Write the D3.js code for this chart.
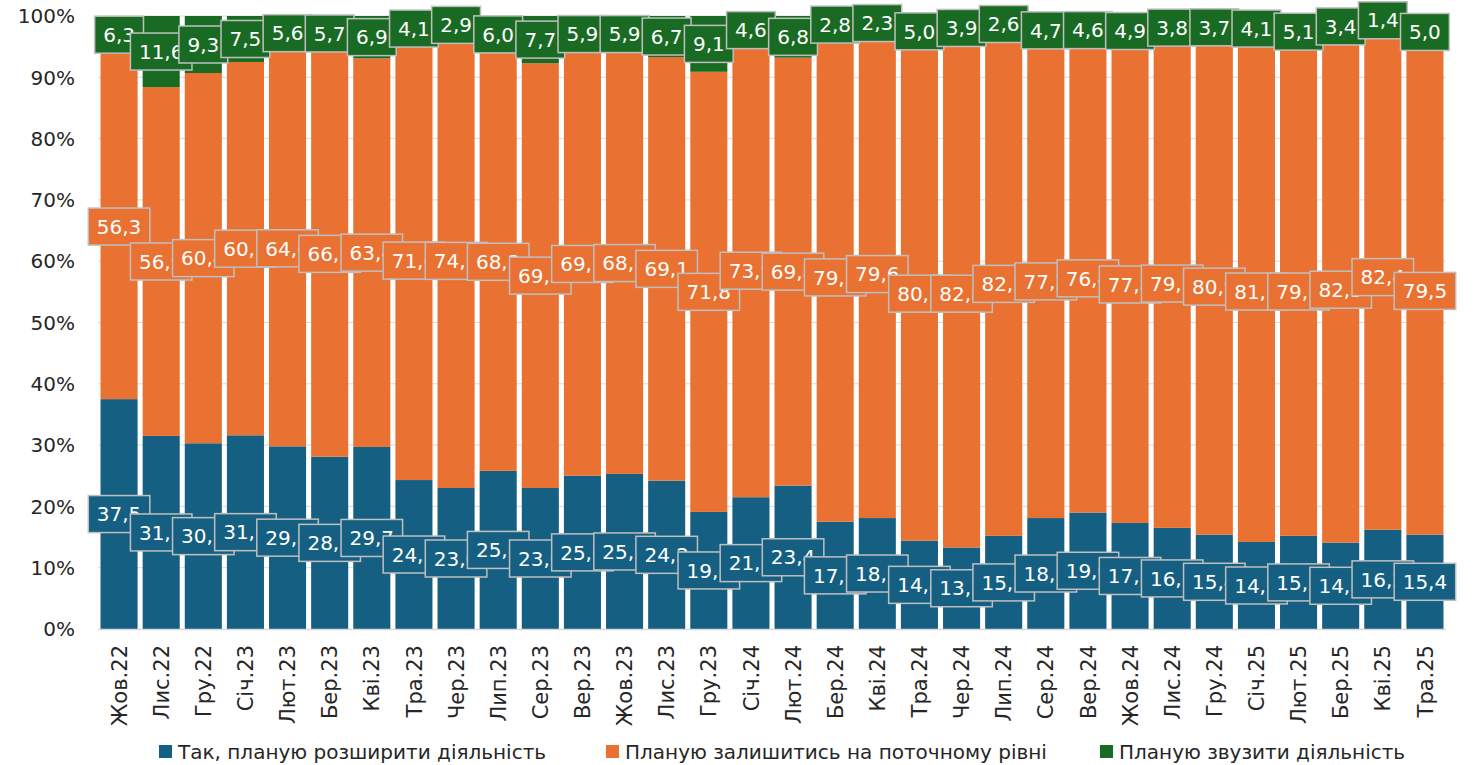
<!DOCTYPE html>
<html><head><meta charset="utf-8">
<script src="https://cdn.jsdelivr.net/npm/d3@7"></script>
<style>body{margin:0;background:#fff}svg{display:block}text{font-family:"DejaVu Sans",Verdana,sans-serif}</style>
</head><body><svg id="c" width="1473" height="765"></svg>
<script>
const months = ["Жов.22","Лис.22","Гру.22","Січ.23","Лют.23","Бер.23","Кві.23","Тра.23","Чер.23","Лип.23","Сер.23","Вер.23","Жов.23","Лис.23","Гру.23","Січ.24","Лют.24","Бер.24","Кві.24","Тра.24","Чер.24","Лип.24","Сер.24","Вер.24","Жов.24","Лис.24","Гру.24","Січ.25","Лют.25","Бер.25","Кві.25","Тра.25"];
const expand = [37.5,31.5,30.3,31.6,29.8,28.1,29.7,24.3,23.0,25.8,23.0,25.0,25.3,24.2,19.1,21.5,23.4,17.5,18.1,14.4,13.3,15.2,18.1,19.0,17.3,16.5,15.4,14.2,15.2,14.1,16.2,15.4];
const stay = [56.3,56.9,60.4,60.9,64.6,66.2,63.4,71.6,74.1,68.2,69.3,69.1,68.8,69.1,71.8,73.9,69.8,79.7,79.6,80.6,82.8,82.2,77.2,76.4,77.8,79.7,80.9,81.7,79.7,82.5,82.4,79.5];
const shrink = [6.3,11.6,9.3,7.5,5.6,5.7,6.9,4.1,2.9,6.0,7.7,5.9,5.9,6.7,9.1,4.6,6.8,2.8,2.3,5.0,3.9,2.6,4.7,4.6,4.9,3.8,3.7,4.1,5.1,3.4,1.4,5.0];
const seriesNames = ["Так, планую розширити діяльність","Планую залишитись на поточному рівні","Планую звузити діяльність"];
const colors = ["#156082","#E97132","#196B24"];
const yTicks = [0,10,20,30,40,50,60,70,80,90,100];

const svg = d3.select("#c");
const rows = months.map((m,i)=>({m, expand:expand[i], stay:stay[i], shrink:shrink[i]}));
const keys = ["expand","stay","shrink"];
const stacked = d3.stack().keys(keys)(rows);

const x = d3.scaleBand().domain(months).range([98,1446]).paddingInner(0.12).paddingOuter(0.06);
const y = d3.scaleLinear().domain([0,100]).range([629,16]);

svg.append("g").selectAll("line").data(yTicks.slice(1)).join("line")
  .attr("x1",98).attr("x2",1446).attr("y1",d=>y(d)).attr("y2",d=>y(d))
  .attr("stroke","#d9d9d9").attr("stroke-width",1);

const gBars = svg.append("g");
stacked.forEach((s,si)=>{
  gBars.append("g").attr("fill",colors[si]).selectAll("rect").data(s).join("rect")
    .attr("x",d=>x(d.data.m)).attr("width",x.bandwidth())
    .attr("y",d=>y(Math.min(100,d[1]))).attr("height",d=>y(d[0])-y(Math.min(100,d[1])));
});

svg.append("line").attr("x1",98).attr("x2",1446).attr("y1",y(0)+0.5).attr("y2",y(0)+0.5)
  .attr("stroke","#d9d9d9").attr("stroke-width",1.5);

svg.append("g").selectAll("text").data(yTicks).join("text")
  .attr("x",75).attr("y",d=>y(d)).attr("dy","0.36em").attr("text-anchor","end")
  .attr("font-size",20).attr("fill","#262626").text(d=>d+"%");

svg.append("g").selectAll("text").data(months).join("text")
  .attr("transform",d=>`translate(${x(d)+x.bandwidth()/2},645) rotate(-90)`)
  .attr("dy","0.36em").attr("text-anchor","end")
  .attr("font-size",21).attr("fill","#262626").text(d=>d);

const fmt = v => d3.format(".1f")(v).replace(".",",");
const gLab = svg.append("g");
stacked.forEach((s,si)=>{
  s.forEach(d=>{
    const v = d.data[keys[si]];
    const cx = x(d.data.m)+x.bandwidth()/2;
    const cy = y((d[0]+d[1])/2);
    const g = gLab.append("g");
    const t = g.append("text").attr("x",cx).attr("y",cy).attr("dy","0.36em")
      .attr("text-anchor","middle").attr("font-size",20).attr("fill","#fff").text(fmt(v));
    const w = t.node().getComputedTextLength()+17, h = 37;
    g.insert("rect","text").attr("x",cx-w/2).attr("y",cy-h/2).attr("width",w).attr("height",h)
      .attr("fill",colors[si]).attr("stroke","#bfbfbf").attr("stroke-width",1.5);
  });
});

const legX = [159,606,1100];
const gLeg = svg.append("g");
seriesNames.forEach((n,i)=>{
  gLeg.append("rect").attr("x",legX[i]).attr("y",745).attr("width",13).attr("height",13).attr("fill",colors[i]);
  gLeg.append("text").attr("x",legX[i]+19).attr("y",752).attr("dy","0.36em")
    .attr("font-size",20).attr("fill","#262626").text(n);
});
</script></body></html>
